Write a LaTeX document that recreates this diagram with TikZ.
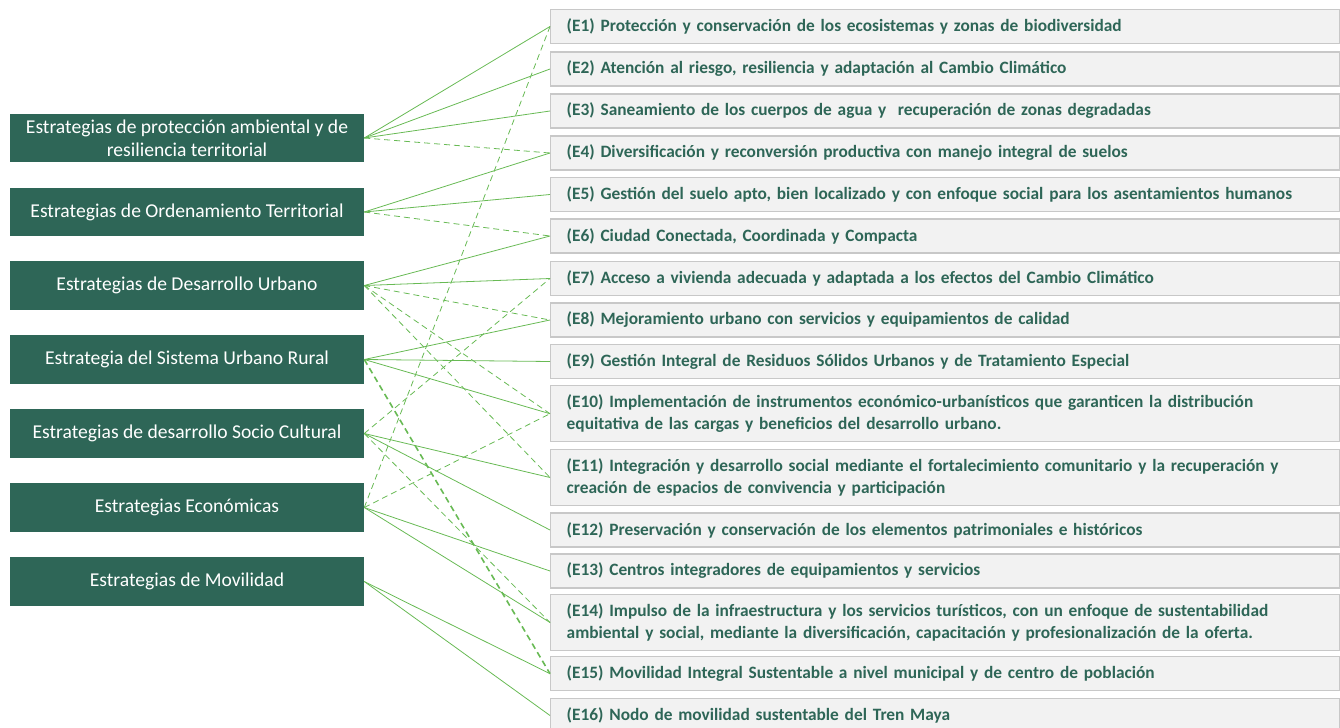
\documentclass[tikz,border=0pt]{standalone}
\usepackage{fontspec}
\setmainfont{Carlito}
\definecolor{dkgreen}{RGB}{46,102,87}
\definecolor{lngreen}{RGB}{104,186,84}
\definecolor{boxfill}{RGB}{242,242,242}
\definecolor{boxline}{RGB}{200,200,200}
\begin{document}
\begin{tikzpicture}[x=0.75pt,y=-0.75pt,
  lbox/.style={fill=dkgreen,text=white,minimum width=265.5pt,minimum height=36.4pt,align=center,inner sep=0pt,font=\fontsize{14.7}{17.3}\selectfont},
  rbox/.style={fill=boxfill,draw=boxline,line width=1.1pt,anchor=west,minimum width=592pt,text width=592pt,inner xsep=0pt,align=left,text=dkgreen,font=\bfseries\fontsize{13}{16.3}\selectfont},
  rone/.style={rbox,minimum height=25.5pt},
  rtwo/.style={rbox,minimum height=42pt},
  lnk/.style={draw=lngreen,line width=0.6pt},
  dlnk/.style={lnk,dash pattern=on 4.5pt off 3pt},
  tdlnk/.style={lnk,line width=1.2pt,dash pattern=on 4.5pt off 3pt}
]
\useasboundingbox (0,0) rectangle (1340,728);
% left boxes
\node[lbox] (L1) at (187,138) {Estrategias de protección ambiental y de\\resiliencia territorial};
\node[lbox] (L2) at (187,212) {Estrategias de Ordenamiento Territorial};
\node[lbox] (L3) at (187,285.5) {Estrategias de Desarrollo Urbano};
\node[lbox] (L4) at (187,359.5) {Estrategia del Sistema Urbano Rural};
\node[lbox] (L5) at (187,433.5) {Estrategias de desarrollo Socio Cultural};
\node[lbox] (L6) at (187,507.5) {Estrategias Económicas};
\node[lbox] (L7) at (187,581.5) {Estrategias de Movilidad};
% right boxes
\node[rone] (E1) at (550,26.5) {\hspace*{12pt}(E1) Protección y conservación de los ecosistemas y zonas de biodiversidad};
\node[rone] (E2) at (550,69) {\hspace*{12pt}(E2) Atención al riesgo, resiliencia y adaptación al Cambio Climático};
\node[rone] (E3) at (550,111) {\hspace*{12pt}(E3) Saneamiento de los cuerpos de agua y~ recuperación de zonas degradadas};
\node[rone] (E4) at (550,153) {\hspace*{12pt}(E4) Diversificación y reconversión productiva con manejo integral de suelos};
\node[rone] (E5) at (550,194.5) {\hspace*{12pt}(E5) Gestión del suelo apto, bien localizado y con enfoque social para los asentamientos humanos};
\node[rone] (E6) at (550,236) {\hspace*{12pt}(E6) Ciudad Conectada, Coordinada y Compacta};
\node[rone] (E7) at (550,278.5) {\hspace*{12pt}(E7) Acceso a vivienda adecuada y adaptada a los efectos del Cambio Climático};
\node[rone] (E8) at (550,320) {\hspace*{12pt}(E8) Mejoramiento urbano con servicios y equipamientos de calidad};
\node[rone] (E9) at (550,361.5) {\hspace*{12pt}(E9) Gestión Integral de Residuos Sólidos Urbanos y de Tratamiento Especial};
\node[rtwo] (E10) at (550,413.7) {\hspace*{12pt}(E10) Implementación de instrumentos económico-urbanísticos que garanticen la distribución\\\hspace*{12pt}equitativa de las cargas y beneficios del desarrollo urbano.};
\node[rtwo] (E11) at (550,477.5) {\hspace*{12pt}(E11) Integración y desarrollo social mediante el fortalecimiento comunitario y la recuperación y\\\hspace*{12pt}creación de espacios de convivencia y participación};
\node[rone] (E12) at (550,530) {\hspace*{12pt}(E12) Preservación y conservación de los elementos patrimoniales e históricos};
\node[rone] (E13) at (550,571) {\hspace*{12pt}(E13) Centros integradores de equipamientos y servicios};
\node[rtwo] (E14) at (550,622.5) {\hspace*{12pt}(E14) Impulso de la infraestructura y los servicios turísticos, con un enfoque de sustentabilidad\\\hspace*{12pt}ambiental y social, mediante la diversificación, capacitación y profesionalización de la oferta.};
\node[rone] (E15) at (550,673.7) {\hspace*{12pt}(E15) Movilidad Integral Sustentable a nivel municipal y de centro de población};
\node[rone] (E16) at (550,715.5) {\hspace*{12pt}(E16) Nodo de movilidad sustentable del Tren Maya};
% connectors
\draw[lnk] (L1.east) -- (E1.west);
\draw[lnk] (L1.east) -- (E2.west);
\draw[lnk] (L1.east) -- (E3.west);
\draw[dlnk] (L1.east) -- (E4.west);
\draw[lnk] (L2.east) -- (E4.west);
\draw[lnk] (L2.east) -- (E5.west);
\draw[dlnk] (L2.east) -- (E6.west);
\draw[lnk] (L3.east) -- (E6.west);
\draw[lnk] (L3.east) -- (E7.west);
\draw[dlnk] (L3.east) -- (E8.west);
\draw[dlnk] (L3.east) -- (E10.west);
\draw[dlnk] (L3.east) -- (E11.west);
\draw[lnk] (L4.east) -- (E8.west);
\draw[lnk] (L4.east) -- (E9.west);
\draw[lnk] (L4.east) -- (E10.west);
\draw[tdlnk] (L4.east) -- (E15.west);
\draw[dlnk] (L5.east) -- (E7.west);
\draw[lnk] (L5.east) -- (E11.west);
\draw[lnk] (L5.east) -- (E12.west);
\draw[dlnk] (L5.east) -- (E14.west);
\draw[dlnk] (L6.east) -- (E1.west);
\draw[dlnk] (L6.east) -- (E10.west);
\draw[lnk] (L6.east) -- (E13.west);
\draw[lnk] (L6.east) -- (E14.west);
\draw[lnk] (L7.east) -- (E15.west);
\draw[lnk] (L7.east) -- (E16.west);
\end{tikzpicture}
\end{document}
